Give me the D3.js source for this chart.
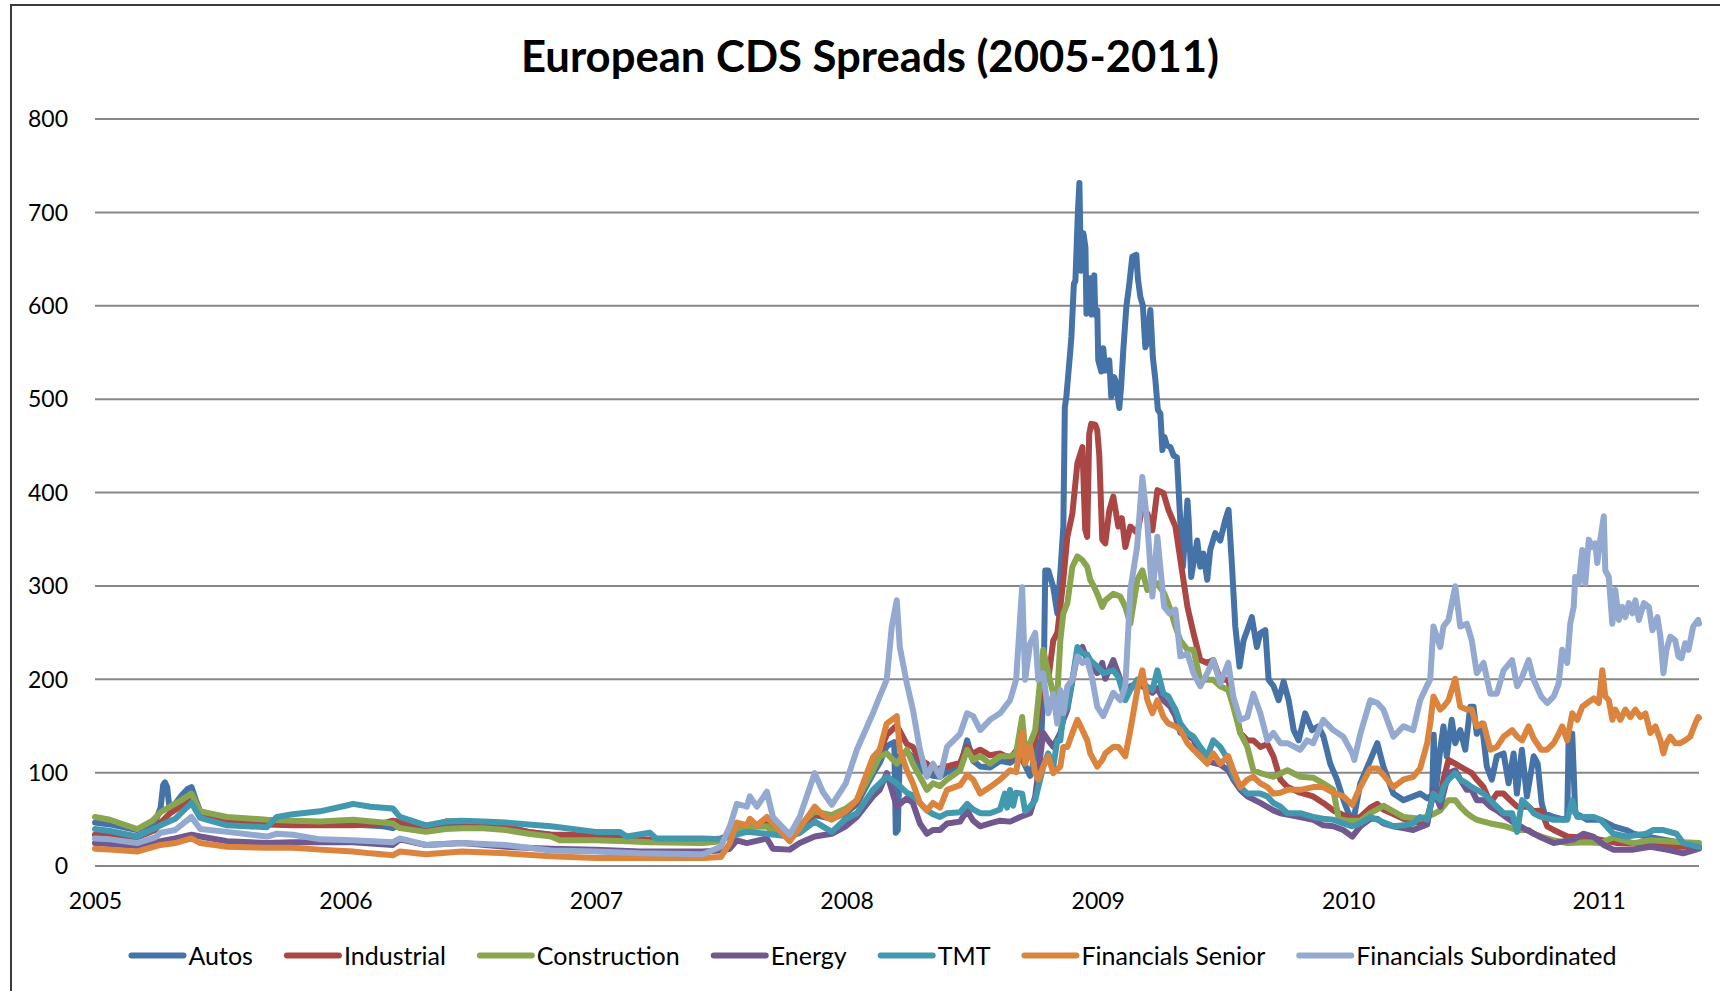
<!DOCTYPE html>
<html>
<head>
<meta charset="utf-8">
<script src="https://cdn.jsdelivr.net/npm/d3@7"></script>
<style>
  html, body { margin: 0; padding: 0; background: #fff; }
  svg { display: block; }
  text { font-family: Lato, "Open Sans", "DejaVu Sans", sans-serif; fill: #000; }
</style>
</head>
<body>
<svg id="chart" width="1720" height="991"></svg>
<script>
// ---- chart data -------------------------------------------------------
const chartTitle = "European CDS Spreads (2005-2011)";
const seriesNames = ["Autos", "Industrial", "Construction", "Energy", "TMT", "Financials Senior", "Financials Subordinated"];
const yTicks = [0, 100, 200, 300, 400, 500, 600, 700, 800];
const yearTicks = [2005, 2006, 2007, 2008, 2009, 2010, 2011];
const dateRange = [2005.0, 2011.4];

// each point: [date as fractional year, spread in bp]
const autos = [[2005.000,46],[2005.060,44],[2005.168,38],[2005.240,46],[2005.262,62],[2005.272,86],[2005.279,89],[2005.288,84],[2005.298,60],[2005.320,66],[2005.345,75],[2005.370,82],[2005.385,84],[2005.400,72],[2005.420,58],[2005.470,54],[2005.527,50],[2005.600,49],[2005.686,48],[2005.790,47],[2005.898,46],[2006.030,44],[2006.150,42],[2006.189,40],[2006.217,44],[2006.321,40],[2006.465,45],[2006.550,43],[2006.640,40],[2006.730,36],[2006.820,33],[2006.999,30],[2007.100,29],[2007.175,27],[2007.300,26],[2007.426,25],[2007.498,27],[2007.534,33],[2007.562,40],[2007.614,43],[2007.682,42],[2007.706,38],[2007.773,30],[2007.813,40],[2007.873,54],[2007.941,50],[2007.997,56],[2008.041,66],[2008.105,98],[2008.132,110],[2008.160,128],[2008.190,132],[2008.196,35],[2008.204,38],[2008.212,118],[2008.240,122],[2008.264,116],[2008.292,104],[2008.320,98],[2008.344,96],[2008.372,95],[2008.400,100],[2008.452,106],[2008.480,134],[2008.504,112],[2008.532,106],[2008.571,105],[2008.611,112],[2008.651,110],[2008.691,118],[2008.731,96],[2008.751,118],[2008.775,135],[2008.785,200],[2008.791,316],[2008.803,316],[2008.815,305],[2008.823,298],[2008.839,270],[2008.851,313],[2008.863,363],[2008.869,491],[2008.875,502],[2008.883,527],[2008.891,552],[2008.895,566],[2008.905,623],[2008.911,626],[2008.921,700],[2008.927,731],[2008.933,637],[2008.943,677],[2008.951,662],[2008.955,591],[2008.962,600],[2008.970,629],[2008.976,590],[2008.986,632],[2008.990,590],[2008.998,595],[2009.002,541],[2009.014,529],[2009.022,554],[2009.030,530],[2009.046,541],[2009.054,502],[2009.066,523],[2009.072,518],[2009.086,490],[2009.094,516],[2009.102,552],[2009.114,598],[2009.126,623],[2009.138,652],[2009.154,654],[2009.160,629],[2009.170,609],[2009.180,600],[2009.190,555],[2009.198,560],[2009.210,595],[2009.220,544],[2009.230,520],[2009.240,488],[2009.250,484],[2009.258,445],[2009.266,459],[2009.276,450],[2009.290,448],[2009.303,439],[2009.316,437],[2009.330,366],[2009.340,320],[2009.358,391],[2009.363,370],[2009.373,309],[2009.386,330],[2009.397,348],[2009.409,320],[2009.422,334],[2009.437,306],[2009.449,338],[2009.469,356],[2009.489,348],[2009.509,370],[2009.522,381],[2009.536,320],[2009.549,256],[2009.566,213],[2009.582,241],[2009.602,256],[2009.615,266],[2009.635,234],[2009.649,249],[2009.669,252],[2009.682,199],[2009.702,192],[2009.722,177],[2009.742,197],[2009.762,177],[2009.782,145],[2009.802,134],[2009.828,163],[2009.855,145],[2009.881,149],[2009.901,138],[2009.928,109],[2009.955,92],[2009.981,70],[2010.001,56],[2010.021,49],[2010.048,88],[2010.088,113],[2010.116,131],[2010.140,106],[2010.180,77],[2010.220,70],[2010.259,74],[2010.287,77],[2010.315,72],[2010.335,75],[2010.341,140],[2010.349,78],[2010.367,124],[2010.380,149],[2010.393,117],[2010.413,156],[2010.427,131],[2010.447,145],[2010.467,124],[2010.487,170],[2010.500,170],[2010.513,141],[2010.533,152],[2010.553,106],[2010.573,92],[2010.593,117],[2010.620,120],[2010.640,88],[2010.660,120],[2010.673,77],[2010.693,124],[2010.713,74],[2010.740,117],[2010.756,109],[2010.772,67],[2010.783,56],[2010.820,52],[2010.860,49],[2010.874,52],[2010.880,141],[2010.894,141],[2010.906,56],[2010.954,49],[2011.006,49],[2011.058,42],[2011.110,38],[2011.138,34],[2011.190,31],[2011.270,27],[2011.337,24],[2011.400,20]];

const industrial = [[2005.000,33],[2005.060,32],[2005.168,30],[2005.240,38],[2005.262,46],[2005.300,56],[2005.345,64],[2005.385,70],[2005.420,56],[2005.527,48],[2005.686,44],[2005.790,43],[2005.898,43],[2006.030,43],[2006.150,45],[2006.189,48],[2006.240,46],[2006.321,41],[2006.400,47],[2006.465,47],[2006.550,45],[2006.640,42],[2006.730,36],[2006.820,33],[2006.900,33],[2006.999,31],[2007.123,29],[2007.175,28],[2007.300,27],[2007.426,27],[2007.498,29],[2007.534,33],[2007.562,40],[2007.614,44],[2007.682,45],[2007.706,40],[2007.773,32],[2007.813,42],[2007.873,55],[2007.941,52],[2007.997,58],[2008.041,68],[2008.105,105],[2008.132,122],[2008.160,140],[2008.200,150],[2008.240,130],[2008.264,127],[2008.292,113],[2008.320,109],[2008.344,102],[2008.372,104],[2008.400,106],[2008.452,110],[2008.480,127],[2008.504,120],[2008.532,124],[2008.571,118],[2008.611,120],[2008.651,115],[2008.691,128],[2008.731,120],[2008.751,134],[2008.783,209],[2008.803,199],[2008.823,241],[2008.839,249],[2008.851,277],[2008.863,306],[2008.879,352],[2008.899,377],[2008.919,431],[2008.939,448],[2008.950,360],[2008.958,352],[2008.966,462],[2008.974,473],[2008.990,472],[2008.998,466],[2009.006,440],[2009.018,349],[2009.030,345],[2009.046,380],[2009.062,395],[2009.082,363],[2009.096,372],[2009.110,341],[2009.130,363],[2009.158,356],[2009.178,384],[2009.198,377],[2009.218,359],[2009.238,402],[2009.262,399],[2009.282,381],[2009.310,363],[2009.330,327],[2009.358,277],[2009.382,249],[2009.409,220],[2009.437,217],[2009.461,220],[2009.489,199],[2009.521,199],[2009.541,177],[2009.569,142],[2009.597,134],[2009.621,134],[2009.649,127],[2009.677,130],[2009.701,117],[2009.729,92],[2009.757,84],[2009.808,78],[2009.860,74],[2009.900,67],[2009.940,59],[2009.980,54],[2010.020,50],[2010.048,52],[2010.088,62],[2010.116,66],[2010.140,60],[2010.180,55],[2010.220,50],[2010.259,48],[2010.287,45],[2010.315,50],[2010.340,77],[2010.367,72],[2010.380,92],[2010.400,113],[2010.427,109],[2010.447,106],[2010.473,102],[2010.493,99],[2010.513,92],[2010.540,84],[2010.567,67],[2010.593,77],[2010.620,77],[2010.646,70],[2010.674,63],[2010.720,63],[2010.740,58],[2010.770,59],[2010.794,42],[2010.820,38],[2010.874,31],[2010.980,29],[2011.073,24],[2011.170,23],[2011.270,20],[2011.400,20]];

const construction = [[2005.000,52],[2005.060,49],[2005.168,39],[2005.230,48],[2005.262,57],[2005.300,63],[2005.345,70],[2005.385,77],[2005.420,58],[2005.527,52],[2005.686,49],[2005.790,48],[2005.898,47],[2006.030,49],[2006.150,46],[2006.189,45],[2006.217,40],[2006.321,36],[2006.400,39],[2006.465,40],[2006.550,40],[2006.640,38],[2006.730,34],[2006.820,31],[2006.855,27],[2006.999,27],[2007.123,26],[2007.215,25],[2007.426,24],[2007.498,26],[2007.562,38],[2007.602,41],[2007.682,42],[2007.706,36],[2007.773,32],[2007.813,43],[2007.873,58],[2007.941,54],[2007.997,61],[2008.041,70],[2008.105,102],[2008.132,117],[2008.160,120],[2008.200,109],[2008.240,124],[2008.264,109],[2008.292,95],[2008.320,81],[2008.344,88],[2008.372,85],[2008.400,92],[2008.452,102],[2008.480,124],[2008.504,113],[2008.532,117],[2008.571,109],[2008.611,117],[2008.651,117],[2008.675,120],[2008.699,159],[2008.711,124],[2008.731,131],[2008.751,145],[2008.783,231],[2008.803,206],[2008.823,184],[2008.839,182],[2008.851,241],[2008.863,270],[2008.879,281],[2008.899,320],[2008.919,331],[2008.939,327],[2008.958,320],[2008.970,306],[2008.986,298],[2008.998,291],[2009.018,277],[2009.030,284],[2009.062,291],[2009.090,288],[2009.110,277],[2009.130,259],[2009.158,306],[2009.178,316],[2009.198,295],[2009.238,302],[2009.266,291],[2009.286,277],[2009.310,256],[2009.330,241],[2009.358,231],[2009.382,231],[2009.409,199],[2009.461,199],[2009.489,192],[2009.521,188],[2009.541,170],[2009.569,142],[2009.597,127],[2009.621,102],[2009.649,99],[2009.701,95],[2009.757,102],[2009.808,95],[2009.860,94],[2009.900,88],[2009.940,81],[2009.962,50],[2009.996,48],[2010.048,48],[2010.088,56],[2010.116,60],[2010.140,64],[2010.180,58],[2010.220,52],[2010.287,50],[2010.340,55],[2010.367,59],[2010.400,70],[2010.427,70],[2010.447,63],[2010.473,56],[2010.493,52],[2010.513,49],[2010.540,47],[2010.567,45],[2010.627,42],[2010.674,38],[2010.720,38],[2010.740,34],[2010.770,31],[2010.820,27],[2010.874,24],[2010.950,25],[2011.006,24],[2011.058,30],[2011.138,24],[2011.206,27],[2011.337,25],[2011.400,24]];

const energy = [[2005.000,24],[2005.060,23],[2005.168,21],[2005.262,26],[2005.320,29],[2005.385,33],[2005.420,31],[2005.527,26],[2005.686,24],[2005.790,25],[2005.898,25],[2006.030,25],[2006.189,22],[2006.217,28],[2006.321,22],[2006.465,24],[2006.640,20],[2006.820,18],[2006.999,17],[2007.175,15],[2007.426,15],[2007.498,16],[2007.534,18],[2007.562,27],[2007.602,24],[2007.682,29],[2007.706,18],[2007.773,17],[2007.813,24],[2007.873,31],[2007.941,34],[2007.997,42],[2008.041,52],[2008.105,74],[2008.132,81],[2008.160,99],[2008.200,63],[2008.240,72],[2008.264,67],[2008.292,45],[2008.320,34],[2008.344,38],[2008.372,38],[2008.400,45],[2008.452,47],[2008.480,59],[2008.504,48],[2008.532,42],[2008.571,45],[2008.611,48],[2008.651,47],[2008.691,52],[2008.731,56],[2008.751,74],[2008.783,142],[2008.803,134],[2008.823,127],[2008.851,142],[2008.863,156],[2008.879,167],[2008.899,198],[2008.919,227],[2008.939,234],[2008.958,220],[2008.998,206],[2009.018,217],[2009.030,200],[2009.062,220],[2009.082,205],[2009.110,184],[2009.130,192],[2009.158,195],[2009.178,192],[2009.218,185],[2009.238,190],[2009.262,177],[2009.290,170],[2009.310,160],[2009.330,142],[2009.358,140],[2009.382,135],[2009.409,117],[2009.437,112],[2009.461,110],[2009.489,108],[2009.521,102],[2009.541,92],[2009.569,81],[2009.597,74],[2009.649,67],[2009.701,59],[2009.729,56],[2009.808,52],[2009.860,49],[2009.900,43],[2009.940,42],[2009.980,38],[2010.016,31],[2010.048,42],[2010.088,50],[2010.116,50],[2010.140,45],[2010.180,42],[2010.220,40],[2010.259,38],[2010.315,44],[2010.340,81],[2010.367,63],[2010.400,99],[2010.427,102],[2010.447,92],[2010.473,81],[2010.493,81],[2010.513,70],[2010.540,70],[2010.567,63],[2010.593,59],[2010.654,47],[2010.713,38],[2010.770,30],[2010.820,24],[2010.900,28],[2010.938,34],[2010.978,31],[2011.020,22],[2011.058,17],[2011.138,17],[2011.206,20],[2011.270,17],[2011.337,13],[2011.400,18]];

const tmt = [[2005.000,39],[2005.060,37],[2005.168,31],[2005.240,40],[2005.262,43],[2005.320,50],[2005.385,67],[2005.420,51],[2005.527,43],[2005.686,41],[2005.726,52],[2005.790,55],[2005.898,58],[2006.000,64],[2006.030,66],[2006.100,63],[2006.189,61],[2006.217,52],[2006.321,43],[2006.400,47],[2006.465,48],[2006.550,47],[2006.640,46],[2006.730,44],[2006.820,42],[2006.999,36],[2007.095,36],[2007.123,31],[2007.215,35],[2007.240,29],[2007.426,29],[2007.498,28],[2007.534,31],[2007.562,33],[2007.602,36],[2007.682,34],[2007.773,31],[2007.813,35],[2007.873,47],[2007.941,36],[2007.997,50],[2008.041,56],[2008.105,81],[2008.132,88],[2008.160,95],[2008.200,88],[2008.240,78],[2008.264,75],[2008.292,67],[2008.320,59],[2008.344,55],[2008.372,52],[2008.400,56],[2008.452,57],[2008.480,66],[2008.504,60],[2008.532,56],[2008.571,56],[2008.611,60],[2008.630,77],[2008.639,62],[2008.651,81],[2008.663,64],[2008.675,78],[2008.699,77],[2008.711,58],[2008.731,63],[2008.751,70],[2008.783,106],[2008.803,120],[2008.823,106],[2008.839,134],[2008.851,134],[2008.863,163],[2008.879,170],[2008.899,199],[2008.919,234],[2008.939,227],[2008.958,226],[2008.970,220],[2008.998,213],[2009.022,206],[2009.062,209],[2009.082,202],[2009.110,177],[2009.130,188],[2009.158,199],[2009.178,195],[2009.218,188],[2009.238,209],[2009.262,184],[2009.282,181],[2009.310,167],[2009.330,152],[2009.358,142],[2009.382,138],[2009.409,127],[2009.437,117],[2009.461,134],[2009.489,127],[2009.521,113],[2009.541,95],[2009.569,84],[2009.597,77],[2009.649,77],[2009.677,74],[2009.701,67],[2009.729,63],[2009.757,56],[2009.808,56],[2009.860,52],[2009.900,50],[2009.940,49],[2009.980,45],[2010.016,42],[2010.048,45],[2010.088,52],[2010.116,49],[2010.180,42],[2010.220,43],[2010.259,45],[2010.287,52],[2010.315,49],[2010.340,77],[2010.367,70],[2010.380,84],[2010.400,92],[2010.427,99],[2010.447,92],[2010.473,88],[2010.493,84],[2010.513,81],[2010.540,77],[2010.567,70],[2010.593,63],[2010.620,56],[2010.654,56],[2010.674,36],[2010.694,70],[2010.720,63],[2010.740,56],[2010.770,52],[2010.820,49],[2010.874,49],[2010.894,70],[2010.914,52],[2010.980,52],[2011.006,49],[2011.058,34],[2011.110,31],[2011.190,34],[2011.218,38],[2011.258,38],[2011.310,34],[2011.337,24],[2011.400,20]];

const finSenior = [[2005.000,18],[2005.060,17],[2005.168,15],[2005.262,22],[2005.320,24],[2005.385,29],[2005.420,24],[2005.527,20],[2005.686,19],[2005.790,19],[2005.898,17],[2006.030,15],[2006.100,13],[2006.189,11],[2006.217,15],[2006.321,12],[2006.465,15],[2006.640,13],[2006.820,10],[2006.999,8],[2007.175,8],[2007.426,8],[2007.498,9],[2007.534,24],[2007.562,46],[2007.602,43],[2007.614,50],[2007.642,43],[2007.682,52],[2007.706,45],[2007.773,26],[2007.813,40],[2007.873,63],[2007.905,54],[2007.941,49],[2007.997,58],[2008.041,70],[2008.105,116],[2008.132,124],[2008.160,152],[2008.180,156],[2008.200,160],[2008.212,124],[2008.240,102],[2008.264,88],[2008.292,67],[2008.320,59],[2008.344,67],[2008.372,62],[2008.400,81],[2008.452,86],[2008.480,97],[2008.504,92],[2008.532,77],[2008.571,84],[2008.611,92],[2008.651,102],[2008.675,100],[2008.699,143],[2008.711,109],[2008.731,127],[2008.751,99],[2008.763,92],[2008.783,106],[2008.803,117],[2008.823,99],[2008.851,106],[2008.863,127],[2008.879,127],[2008.899,142],[2008.919,156],[2008.939,145],[2008.958,134],[2008.970,120],[2008.998,106],[2009.018,113],[2009.030,120],[2009.062,127],[2009.082,127],[2009.110,117],[2009.130,145],[2009.158,188],[2009.178,209],[2009.198,177],[2009.218,163],[2009.238,177],[2009.262,159],[2009.282,152],[2009.310,149],[2009.330,145],[2009.358,131],[2009.382,124],[2009.409,117],[2009.437,109],[2009.461,120],[2009.489,109],[2009.521,117],[2009.541,102],[2009.569,84],[2009.597,92],[2009.621,95],[2009.649,88],[2009.677,84],[2009.701,77],[2009.729,78],[2009.757,81],[2009.808,81],[2009.860,84],[2009.900,84],[2009.940,78],[2009.980,74],[2010.016,65],[2010.048,84],[2010.088,104],[2010.116,104],[2010.140,97],[2010.180,84],[2010.220,92],[2010.259,95],[2010.287,104],[2010.315,131],[2010.327,152],[2010.340,181],[2010.367,167],[2010.380,170],[2010.400,177],[2010.427,200],[2010.447,170],[2010.473,167],[2010.493,167],[2010.513,149],[2010.540,152],[2010.567,124],[2010.593,127],[2010.620,138],[2010.654,145],[2010.674,138],[2010.694,134],[2010.720,149],[2010.740,136],[2010.770,124],[2010.794,124],[2010.820,131],[2010.840,141],[2010.854,149],[2010.874,134],[2010.894,163],[2010.914,156],[2010.934,170],[2010.954,174],[2010.980,179],[2011.000,174],[2011.014,209],[2011.026,181],[2011.040,177],[2011.054,156],[2011.066,167],[2011.086,156],[2011.106,167],[2011.126,159],[2011.146,167],[2011.166,159],[2011.186,163],[2011.206,142],[2011.226,149],[2011.246,134],[2011.258,120],[2011.270,131],[2011.285,138],[2011.305,131],[2011.325,131],[2011.345,134],[2011.365,138],[2011.385,152],[2011.397,159],[2011.400,158]];

const finSubordinated = [[2005.000,29],[2005.060,28],[2005.168,24],[2005.240,30],[2005.262,35],[2005.320,38],[2005.385,52],[2005.420,39],[2005.527,36],[2005.686,31],[2005.726,34],[2005.790,33],[2005.898,28],[2006.030,27],[2006.189,25],[2006.217,29],[2006.321,22],[2006.465,24],[2006.640,22],[2006.820,16],[2006.999,15],[2007.175,13],[2007.426,12],[2007.498,20],[2007.534,42],[2007.562,66],[2007.602,63],[2007.614,74],[2007.642,63],[2007.682,79],[2007.706,52],[2007.773,33],[2007.813,52],[2007.873,99],[2007.905,79],[2007.941,65],[2007.997,88],[2008.041,124],[2008.105,163],[2008.132,181],[2008.160,199],[2008.180,256],[2008.200,284],[2008.212,234],[2008.240,195],[2008.264,167],[2008.292,124],[2008.320,95],[2008.344,109],[2008.372,95],[2008.400,127],[2008.452,141],[2008.480,163],[2008.504,160],[2008.532,145],[2008.571,156],[2008.611,163],[2008.651,177],[2008.675,199],[2008.699,298],[2008.711,199],[2008.731,238],[2008.751,249],[2008.763,199],[2008.783,206],[2008.803,163],[2008.823,184],[2008.839,152],[2008.851,188],[2008.863,163],[2008.879,192],[2008.899,199],[2008.919,224],[2008.939,217],[2008.958,220],[2008.978,200],[2008.998,170],[2009.022,160],[2009.062,185],[2009.090,177],[2009.110,192],[2009.130,295],[2009.157,341],[2009.178,416],[2009.198,366],[2009.218,288],[2009.238,352],[2009.265,277],[2009.286,270],[2009.310,274],[2009.330,224],[2009.358,227],[2009.382,206],[2009.409,192],[2009.437,206],[2009.461,220],[2009.489,195],[2009.521,217],[2009.541,181],[2009.569,156],[2009.597,159],[2009.621,184],[2009.649,163],[2009.677,134],[2009.701,142],[2009.729,131],[2009.757,131],[2009.808,124],[2009.836,134],[2009.860,131],[2009.900,156],[2009.940,145],[2009.980,138],[2010.016,120],[2010.024,113],[2010.048,141],[2010.088,177],[2010.116,174],[2010.140,167],[2010.180,138],[2010.220,149],[2010.259,145],[2010.287,177],[2010.313,192],[2010.327,199],[2010.340,256],[2010.367,234],[2010.380,256],[2010.400,263],[2010.427,299],[2010.447,256],[2010.473,259],[2010.493,241],[2010.513,206],[2010.540,217],[2010.567,184],[2010.593,184],[2010.620,209],[2010.654,220],[2010.674,192],[2010.694,202],[2010.720,220],[2010.740,199],[2010.770,181],[2010.794,174],[2010.820,181],[2010.840,195],[2010.854,231],[2010.874,217],[2010.886,259],[2010.900,277],[2010.906,309],[2010.920,302],[2010.934,338],[2010.946,302],[2010.960,349],[2010.974,341],[2010.986,345],[2010.994,324],[2011.006,349],[2011.020,374],[2011.026,316],[2011.040,309],[2011.054,259],[2011.066,295],[2011.080,263],[2011.094,277],[2011.106,266],[2011.120,281],[2011.134,270],[2011.146,284],[2011.160,263],[2011.180,281],[2011.200,277],[2011.214,252],[2011.234,266],[2011.246,245],[2011.258,206],[2011.270,231],[2011.285,245],[2011.305,241],[2011.318,224],[2011.330,222],[2011.345,238],[2011.358,231],[2011.377,256],[2011.397,263],[2011.400,259]];

const seriesValues = [autos, industrial, construction, energy, tmt, finSenior, finSubordinated];

// ---- styling ----------------------------------------------------------
const palette = ["#4572A7", "#AA4643", "#89A54E", "#71588F", "#4198AF", "#DB843D", "#93A9CF"];
const W = 1720, H = 991;
const plot = { left: 95, right: 1699, top: 118.5, bottom: 865.5 };
const lineWidth = 6;
const axisFont = 23;
const legendFont = 25;

// fractional year -> Date
function toDate(t) {
  const yr = Math.floor(t);
  const a = new Date(yr, 0, 1), b = new Date(yr + 1, 0, 1);
  return new Date(+a + (t - yr) * (b - a));
}

const svg = d3.select("#chart");

svg.append("rect").attr("width", W).attr("height", H).attr("fill", "#fff");
// chart frame (right and bottom edges run past the page)
svg.append("rect")
  .attr("x", 11).attr("y", 5).attr("width", W + 40).attr("height", H + 40)
  .attr("fill", "none").attr("stroke", "#3a3a3a").attr("stroke-width", 2);

const x = d3.scaleTime()
  .domain(dateRange.map(toDate))
  .range([plot.left, plot.right]);
const y = d3.scaleLinear()
  .domain([yTicks[0], yTicks[yTicks.length - 1]])
  .range([plot.bottom, plot.top]);

// title, scaled to fit its box
const titleEl = svg.append("text")
  .attr("x", 870).attr("y", 72)
  .attr("text-anchor", "middle")
  .style("font-weight", "bold")
  .style("font-size", "40px")
  .text(chartTitle);
const tw = titleEl.node().getComputedTextLength();
titleEl.style("font-size", (40 * 698 / tw).toFixed(2) + "px");

// value axis with horizontal gridlines
const yAxis = svg.append("g")
  .attr("transform", `translate(${plot.left},0)`)
  .call(d3.axisLeft(y).tickValues(yTicks).tickSize(-(plot.right - plot.left)).tickPadding(27));
yAxis.select(".domain").remove();
yAxis.selectAll(".tick line").attr("stroke", "#878787").attr("stroke-width", 2);
yAxis.selectAll(".tick text")
  .style("font-size", axisFont + "px")
  .style("font-family", "Lato, 'Open Sans', sans-serif")
  .attr("fill", "#000").attr("dy", "0.36em");

// year axis
const xAxis = svg.append("g")
  .attr("transform", `translate(0,${plot.bottom})`)
  .call(d3.axisBottom(x)
    .tickValues(yearTicks.map(toDate))
    .tickFormat(d3.timeFormat("%Y"))
    .tickSize(0).tickPadding(27));
xAxis.select(".domain").remove();
xAxis.selectAll(".tick text")
  .style("font-size", axisFont + "px")
  .style("font-family", "Lato, 'Open Sans', sans-serif")
  .attr("fill", "#000");

// series lines
const line = d3.line()
  .x(d => x(toDate(d[0])))
  .y(d => y(d[1]));

svg.append("g").attr("class", "series")
  .selectAll("path")
  .data(seriesValues)
  .join("path")
  .attr("d", line)
  .attr("fill", "none")
  .attr("stroke", (d, i) => palette[i])
  .attr("stroke-width", lineWidth)
  .attr("stroke-linejoin", "round")
  .attr("stroke-linecap", "round");

// legend, centred under the plot
const legend = svg.append("g").attr("class", "legend");
const legendY = 955.5, swatch = 52, swatchGap = 5, itemGap = 34;
const items = legend.selectAll("g").data(seriesNames).join("g");
items.append("line")
  .attr("x1", 0).attr("x2", swatch)
  .attr("y1", legendY).attr("y2", legendY)
  .attr("stroke", (d, i) => palette[i])
  .attr("stroke-width", lineWidth)
  .attr("stroke-linecap", "round");
items.append("text")
  .attr("x", swatch + swatchGap).attr("y", legendY).attr("dy", "0.36em")
  .style("font-size", legendFont + "px")
  .text(d => d);
let cursor = 0;
const offsets = [];
items.each(function () {
  offsets.push(cursor);
  const w = d3.select(this).select("text").node().getComputedTextLength();
  cursor += swatch + swatchGap + w + itemGap;
});
const total = cursor - itemGap;
const start = 874 - total / 2;
items.attr("transform", (d, i) => `translate(${start + offsets[i]},0)`);
</script>
</body>
</html>
